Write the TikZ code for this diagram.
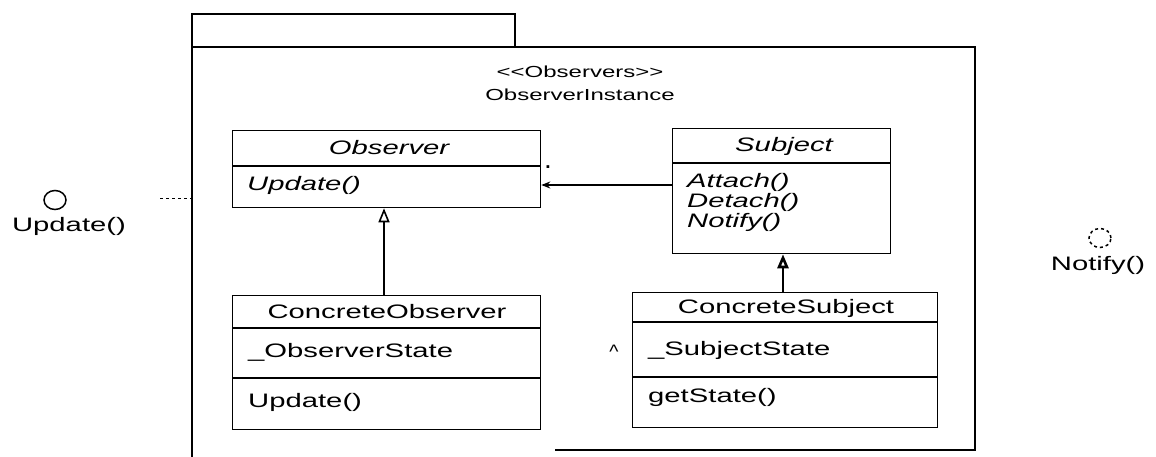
\documentclass[tikz,border=0pt]{standalone}
\usepackage{fontspec}
\setmainfont{Liberation Sans}
\usetikzlibrary{arrows.meta,shapes.geometric}
% wide lettering used throughout the diagram
\newcommand\wide[1]{\scalebox{1.5}[1]{#1}}
\begin{document}
\begin{tikzpicture}[x=1pt,y=-1pt,
  clsbox/.style={draw, line width=1.3pt, anchor=north west, inner sep=0pt},
  txt/.style={inner sep=0pt, font=\fontsize{19.5}{19.5}\selectfont},
  ititle/.style={txt, font=\fontsize{19.5}{19.5}\selectfont\itshape},
  member/.style={txt, anchor=west},
  imember/.style={ititle, anchor=west},
  ttl/.style={inner sep=0pt, font=\fontsize{16}{16}\selectfont},
  sepline/.style={line width=1.1pt},
  genarrow/.style={-{Triangle[open,length=14pt,width=11pt]}, line width=1.6pt},
  assocarrow/.style={-{Stealth[length=9pt,width=7pt]}, line width=1.4pt},
  iface/.style={draw, ellipse, minimum width=22pt, minimum height=19pt, inner sep=0pt, line width=1.5pt}
]
\fill[white] (0,0) rectangle (1156,457);
\useasboundingbox (0,0) rectangle (1156,457);

% package frame with its tab
\draw[line width=1.1pt] (192,47) -- (192,14) -- (515,14) -- (515,47);
\draw[line width=1.1pt] (192,47) -- (975,47) -- (975,450) -- (555,450);
\draw[line width=2.6pt] (192,14) -- (192,457);

\node[ttl] (stereo) at (580,72) {\wide{<\kern0pt<Observers>\kern0pt>}};
\node[ttl] (inst) at (580,95) {\wide{ObserverInstance}};

% Observer
\node[clsbox, minimum width=308pt, minimum height=77pt] (observer) at (232,130) {};
\draw[sepline] (observer.west |- 0,166) -- (observer.east |- 0,166);
\node[ititle] (obsname) at (389,148) {\wide{Observer}};
\node[imember] (obsupd) at (247,185) {\wide{Update()}};

% Subject
\node[clsbox, minimum width=218pt, minimum height=125pt] (subject) at (672,128) {};
\draw[sepline] (subject.west |- 0,163) -- (subject.east |- 0,163);
\node[ititle] (subname) at (784,146) {\wide{Subject}};
\node[imember] (attach) at (687,182) {\wide{Attach()}};
\node[imember] (detach) at (687,202) {\wide{Detach()}};
\node[imember] (notify) at (687,222) {\wide{Notify()}};

% ConcreteObserver
\node[clsbox, minimum width=308pt, minimum height=134pt] (cobs) at (232,295) {};
\draw[sepline] (cobs.west |- 0,328) -- (cobs.east |- 0,328);
\draw[sepline] (cobs.west |- 0,378) -- (cobs.east |- 0,378);
\node[txt] (cobsname) at (387,312) {\wide{ConcreteObserver}};
\node[member] (obsstate) at (248,352) {\wide{\_ObserverState}};
\node[member] (cobsupd) at (248,402) {\wide{Update()}};

% ConcreteSubject
\node[clsbox, minimum width=305pt, minimum height=135pt] (csub) at (632,292) {};
\draw[sepline] (csub.west |- 0,322) -- (csub.east |- 0,322);
\draw[sepline] (csub.west |- 0,377) -- (csub.east |- 0,377);
\node[txt] (csubname) at (786,308) {\wide{ConcreteSubject}};
\node[member] (substate) at (648,350) {\wide{\_SubjectState}};
\node[member] (getstate) at (648,397) {\wide{getState()}};

% relations
\draw[assocarrow] (subject.west |- 0,185) -- (observer.east |- 0,185);
\node[txt, font=\fontsize{19}{19}\selectfont\bfseries] (mult) at (548,167) {.};
\draw[genarrow] (cobs.north -| 384,0) -- (observer.south -| 384,0);
\draw[genarrow, line width=2.6pt] (csub.north -| 783,0) -- (subject.south -| 783,0);
\node[txt] (caret) at (614,352) {\textasciicircum};

% provided interfaces
\node[iface] (iupd) at (55,200) {};
\node[txt] (iupdlbl) at (69,226) {\wide{Update()}};
\coordinate (lstub) at (160,199);
\draw[dashed, line width=1pt] (lstub) -- (192,199);
\node[iface, dashed] (inot) at (1100,238) {};
\node[txt] (inotlbl) at (1098,265) {\wide{Notify()}};
\end{tikzpicture}
\end{document}
